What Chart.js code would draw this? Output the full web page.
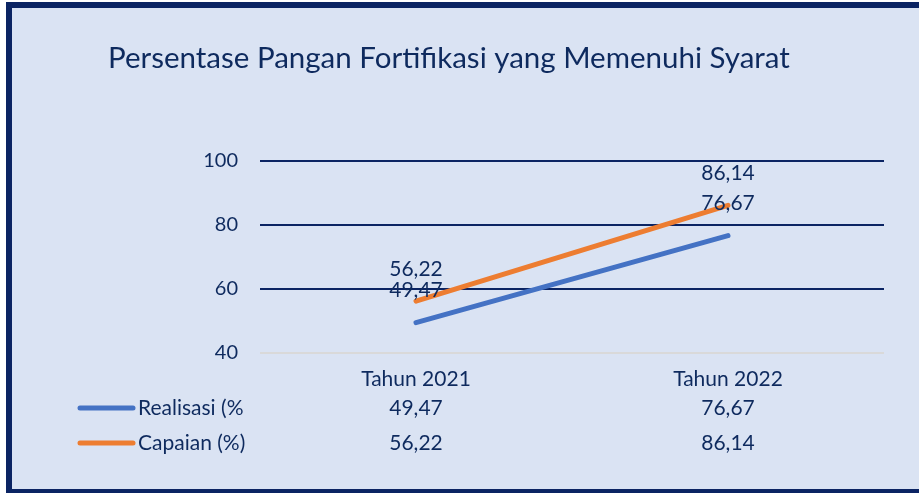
<!DOCTYPE html>
<html>
<head>
<meta charset="utf-8">
<script src="https://cdn.jsdelivr.net/npm/chart.js@4.4.1/dist/chart.umd.min.js"></script>
<style>
  body { margin: 0; background: #ffffff; }
  canvas { display: block; }
</style>
</head>
<body>
<canvas id="chart" width="919" height="493"></canvas>
<script>
// chart data
const categories = ['Tahun 2021', 'Tahun 2022']
const realisasi = [49.47, 76.67]
const capaian = [56.22, 86.14]
const seriesNames = ['Realisasi (%', 'Capaian (%)']
const yTicks = [40, 60, 80, 100]

const titleText = 'Persentase Pangan Fortifikasi yang Memenuhi Syarat'

const navy = '#0b2463'
const textColor = '#0e2a5e'
const bgColor = '#dae3f3'
const blue = '#4472c4'
const orange = '#ed7d31'
const fontFamily = 'Lato, "Open Sans", sans-serif'

// comma decimal like the original
const fmt = (v) => v.toFixed(2).replace('.', ',')

// background, frame and title
const frameBackground = {
    id: 'frameBackground',
    beforeDraw(chart) {
        const ctx = chart.ctx
        ctx.save()
        ctx.fillStyle = '#ffffff'
        ctx.fillRect(0, 0, chart.width, chart.height)
        ctx.fillStyle = navy
        ctx.fillRect(6, 2, chart.width, chart.height)
        ctx.fillStyle = bgColor
        ctx.fillRect(12, 8, chart.width, 481)
        ctx.fillStyle = textColor
        ctx.font = '29.5px ' + fontFamily
        ctx.textAlign = 'left'
        ctx.textBaseline = 'alphabetic'
        ctx.fillText(titleText, 108, 68)
        ctx.restore()
    }
}

// value labels above each point
const pointLabels = {
    id: 'pointLabels',
    afterDatasetsDraw(chart) {
        const ctx = chart.ctx
        ctx.save()
        ctx.fillStyle = textColor
        ctx.font = '21px ' + fontFamily
        ctx.textAlign = 'center'
        ctx.textBaseline = 'middle'
        chart.data.datasets.forEach((ds, i) => {
            const meta = chart.getDatasetMeta(i)
            meta.data.forEach((pt, j) => {
                ctx.fillText(fmt(ds.data[j]), pt.x, pt.y - 32)
            })
        })
        ctx.restore()
    }
}

// data table under the x axis
const dataTable = {
    id: 'dataTable',
    afterDraw(chart) {
        const ctx = chart.ctx
        const xScale = chart.scales.x
        const rows = [
            { name: seriesNames[0], color: blue, values: realisasi },
            { name: seriesNames[1], color: orange, values: capaian }
        ]
        ctx.save()
        ctx.font = '21px ' + fontFamily
        ctx.textBaseline = 'middle'
        rows.forEach((row, r) => {
            const y = chart.chartArea.bottom + 55 + r * 35
            ctx.strokeStyle = row.color
            ctx.lineWidth = 5
            ctx.lineCap = 'round'
            ctx.beginPath()
            ctx.moveTo(80, y)
            ctx.lineTo(133, y)
            ctx.stroke()
            ctx.fillStyle = textColor
            ctx.textAlign = 'left'
            ctx.fillText(row.name, 138, y)
            ctx.textAlign = 'center'
            row.values.forEach((v, i) => {
                ctx.fillText(fmt(v), xScale.getPixelForValue(i), y)
            })
        })
        ctx.restore()
    }
}

new Chart('chart', {
    type: 'line',
    data: {
        labels: categories,
        datasets: [{
            label: seriesNames[0],
            data: realisasi,
            borderColor: blue,
            borderWidth: 5,
            borderCapStyle: 'round',
            pointRadius: 0,
            fill: false
        }, {
            label: seriesNames[1],
            data: capaian,
            borderColor: orange,
            borderWidth: 5,
            borderCapStyle: 'round',
            pointRadius: 0,
            fill: false
        }]
    },
    options: {
        responsive: false,
        animation: false,
        layout: {
            padding: { top: 161, right: 35, left: 0, bottom: 0 }
        },
        plugins: {
            legend: { display: false },
            title: { display: false },
            tooltip: { enabled: false }
        },
        scales: {
            x: {
                offset: true,
                grid: { display: false },
                border: { display: false },
                ticks: {
                    color: textColor,
                    font: { family: fontFamily, size: 21 },
                    padding: 6,
                    maxRotation: 0
                },
                afterFit(scale) { scale.height = 140 }
            },
            y: {
                min: yTicks[0],
                max: yTicks[yTicks.length - 1],
                afterBuildTicks(scale) {
                    scale.ticks = yTicks.map(v => ({ value: v }))
                },
                grid: {
                    color: (c) => c.tick && c.tick.value === yTicks[0] ? '#d9d9d9' : navy,
                    lineWidth: 2,
                    drawTicks: false
                },
                border: { display: false },
                ticks: {
                    color: textColor,
                    font: { family: fontFamily, size: 20 },
                    padding: 22
                },
                afterFit(scale) { scale.width = 260 }
            }
        }
    },
    plugins: [frameBackground, pointLabels, dataTable]
})
</script>
</body>
</html>
